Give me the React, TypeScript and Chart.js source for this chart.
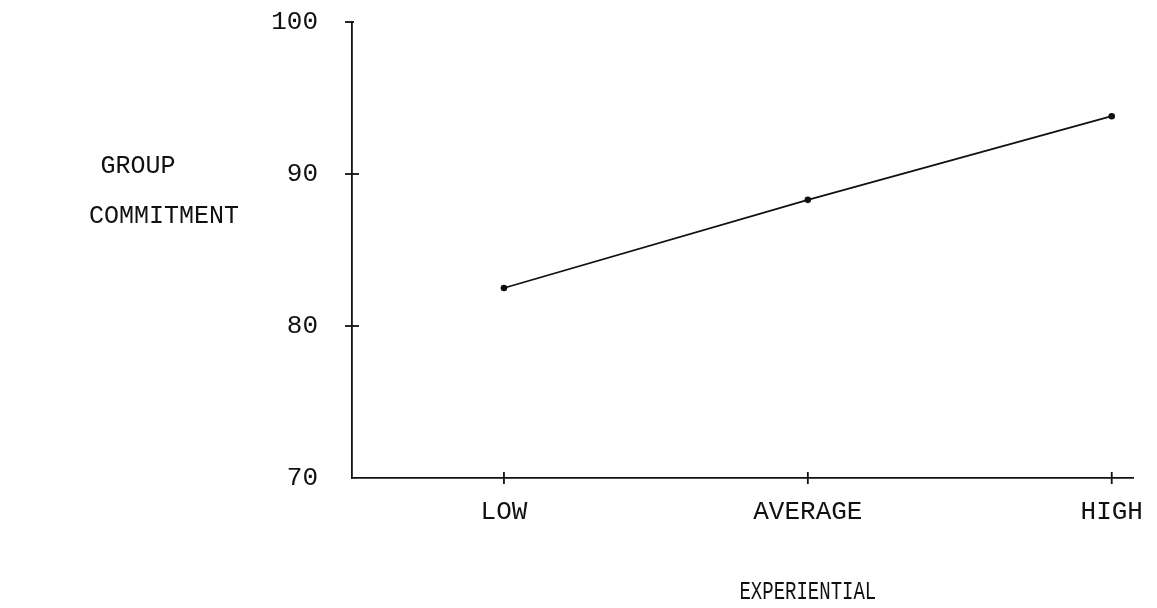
import React, { useEffect, useRef } from "react";
import { Chart, registerables } from "chart.js";

Chart.register(...registerables);

const categories = ["LOW", "AVERAGE", "HIGH"];
const commitment = [82.5, 88.3, 93.8];
const yTicks = [70, 80, 90, 100];
const yTitleLines = ["GROUP", "COMMITMENT"];
const xTitle = "EXPERIENTIAL";

const FONT = "'Liberation Mono', 'DejaVu Sans Mono', monospace";
const INK = "#111";

const crossTicks = {
  id: "crossTicks",
  afterDraw(chart: any) {
    const { ctx, scales } = chart;
    const x = scales.x;
    const y = scales.y;
    ctx.save();
    ctx.strokeStyle = INK;
    ctx.lineWidth = 1.8;
    const y0 = y.getPixelForValue(yTicks[0]);
    categories.forEach((_, i) => {
      const px = x.getPixelForValue(i + 0.5);
      ctx.beginPath();
      ctx.moveTo(px, y0 - 6);
      ctx.lineTo(px, y0 + 6);
      ctx.stroke();
    });
    const x0 = x.getPixelForValue(0);
    yTicks.slice(1).forEach((v) => {
      const py = y.getPixelForValue(v);
      ctx.beginPath();
      ctx.moveTo(x0 - 7, py);
      ctx.lineTo(x0 + (v === 100 ? 2 : 7), py);
      ctx.stroke();
    });
    ctx.fillStyle = INK;
    ctx.textAlign = "center";
    ctx.textBaseline = "middle";
    ctx.font = `25px ${FONT}`;
    ctx.fillText(yTitleLines[0], 138, 166);
    ctx.fillText(yTitleLines[1], 164, 216);
    ctx.save();
    ctx.translate(x.getPixelForValue(1.5), 592);
    ctx.scale(0.76, 1);
    ctx.font = `25px ${FONT}`;
    ctx.fillText(xTitle, 0, 0);
    ctx.restore();
    ctx.restore();
  },
};

export default function App() {
  const ref = useRef<HTMLCanvasElement | null>(null);
  useEffect(() => {
    if (!ref.current) return;
    const chart = new Chart(ref.current, {
      type: "line",
      data: {
        datasets: [
          {
            data: commitment.map((v, i) => ({ x: i + 0.5, y: v })),
            borderColor: INK,
            backgroundColor: INK,
            borderWidth: 1.8,
            pointRadius: 2.4,
            pointHoverRadius: 2.4,
            fill: false,
            tension: 0,
          },
        ],
      },
      options: {
        animation: false,
        responsive: false,
        maintainAspectRatio: false,
        events: [],
        layout: { padding: { left: 0, right: 24, top: 22, bottom: 0 } },
        plugins: { legend: { display: false }, tooltip: { enabled: false } },
        scales: {
          x: {
            type: "linear",
            min: 0,
            max: 2.57,
            afterBuildTicks: (s: any) => {
              s.ticks = categories.map((_, i) => ({ value: i + 0.5 }));
            },
            afterFit: (s: any) => {
              s.height = 130;
              s.paddingLeft = 0;
              s.paddingRight = 0;
            },
            grid: { display: false, drawTicks: false },
            border: { display: true, color: INK, width: 1.8 },
            ticks: {
              color: INK,
              font: { family: FONT, size: 26, lineHeight: 1 },
              padding: 21,
              maxRotation: 0,
              autoSkip: false,
              callback: (v: any) => categories[Math.round(Number(v) - 0.5)] ?? "",
            },
          },
          y: {
            min: 70,
            max: 100,
            afterBuildTicks: (s: any) => {
              s.ticks = yTicks.map((v) => ({ value: v }));
            },
            afterFit: (s: any) => {
              s.width = 352;
              s.paddingTop = 0;
              s.paddingBottom = 0;
            },
            grid: { display: false, drawTicks: false },
            border: { display: true, color: INK, width: 1.8 },
            ticks: {
              color: INK,
              font: { family: FONT, size: 26, lineHeight: 1 },
              padding: 34,
            },
          },
        },
      },
      plugins: [crossTicks],
    });
    return () => chart.destroy();
  }, []);
  return (
    <div style={{ position: "fixed", left: 0, top: 0, width: 1157, height: 608, background: "#fff" }}>
      <canvas ref={ref} width={1157} height={608} style={{ display: "block" }} />
    </div>
  );
}
